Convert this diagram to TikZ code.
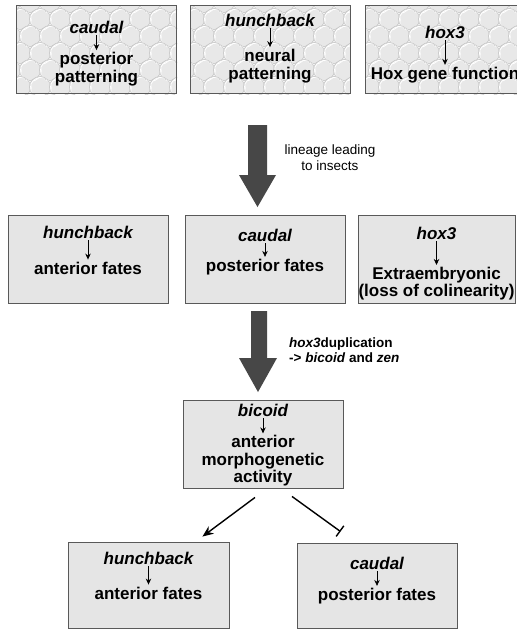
\documentclass[tikz,border=0pt]{standalone}
\usepackage{fontspec}
\setmainfont{Liberation Sans}
\usetikzlibrary{arrows.meta,calc}
\tikzset{
  box/.style={draw=black!65, line width=0.9pt, fill=black!10, inner sep=0pt, minimum width=160pt, minimum height=88pt},
  gene/.style={font=\fontsize{17}{18}\selectfont\bfseries\itshape, inner sep=0pt},
  fate/.style={font=\fontsize{17}{17.5}\selectfont\bfseries, align=center, inner sep=0pt},
  small/.style={-{Stealth[length=6pt,width=5.5pt]}, line width=0.8pt, shorten <=2pt, shorten >=2pt},
  bigarrow/.style={fill=black!72, draw=none},
  lbl/.style={font=\fontsize{13.5}{16}\selectfont, inner sep=0pt},
  lblb/.style={font=\fontsize{13.5}{15}\selectfont\bfseries, inner sep=0pt, align=left},
  conn/.style={line width=1.4pt},
  bubble/.style={draw=black!24, line width=0.5pt},
  bubhi/.style={draw=white, line width=0.8pt}
}
\newcommand{\bubblebox}[4]{%
  \begin{scope}
    \clip (#1,#2) rectangle (#3,#4);
    \fill[black!9] (#1,#2) rectangle (#3,#4);
    \foreach \r in {0,...,6}{
      \foreach \c in {0,...,9}{
        \pgfmathsetmacro{\xx}{#1+\c*20+mod(\r,2)*10-6}
        \pgfmathsetmacro{\yy}{#2+\r*17-3}
        \draw[bubhi] (\xx+0.8,\yy+0.8) circle (10.5);
        \draw[bubble] (\xx,\yy) circle (10.5);
      }
    }
  \end{scope}}
\begin{document}
\begin{tikzpicture}[x=1pt,y=-1pt]
\clip (0,0) rectangle (517,630);
\fill[white] (0,0) rectangle (517,630);

% top row
\bubblebox{16}{5}{177}{94}
\bubblebox{190}{5}{350}{94}
\bubblebox{365}{5}{525}{94}
\node[box, fill=none] (t1) at (96.5,49.5) {};
\node[box, fill=none] (t2) at (270,49.5) {};
\node[box, fill=none] (t3) at (445,49.5) {};
\node[gene] (t1g) at (96.5,27) {caudal};
\node[fate] (t1f) at (96.5,69) {posterior\\patterning};
\node[gene] (t2g) at (270,20) {hunchback};
\node[fate] (t2f) at (270,66) {neural\\patterning};
\node[gene] (t3g) at (445,32) {hox3};
\node[fate] (t3f) at (445,75) {Hox gene function};
\draw[small] (t1g) -- (t1f);
\draw[small] (t2g) -- (t2f);
\draw[small] (t3g) -- (t3f);

% big arrow 1
\fill[bigarrow] (248,125) -- (267,125) -- (267,175) -- (276,175) -- (257.5,207) -- (239,175) -- (248,175) -- cycle;
\node[lbl, align=center] (l1) at (330,158) {lineage leading\\to insects};

% middle row
\node[box] (m1) at (88,259) {};
\node[box] (m2) at (265,259) {};
\node[box, minimum width=157pt] (m3) at (436.5,259) {};
\node[gene] (m1g) at (88,232) {hunchback};
\node[fate] (m1f) at (88,268) {anterior fates};
\node[gene] (m2g) at (265,235) {caudal};
\node[fate] (m2f) at (265,267) {posterior fates};
\node[gene] (m3g) at (436.5,233) {hox3};
\node[fate, font=\fontsize{17}{15.5}\selectfont\bfseries] (m3f) at (436.5,283.5) {Extraembryonic\\(loss of colinearity)};
\draw[small] (m1g) -- (m1f);
\draw[small] (m2g) -- (m2f);
\draw[small] (m3g) -- (m3f);

% big arrow 2
\fill[bigarrow] (251,311) -- (267,311) -- (267,358) -- (277,358) -- (258,392) -- (239,358) -- (251,358) -- cycle;
\node[lblb, anchor=west] (l2) at (289,350.5) {\textit{hox3}duplication\\-> \textit{bicoid} and \textit{zen}};

% bicoid
\node[box] (b) at (263,444) {};
\node[gene] (bg) at (263,410) {bicoid};
\node[fate] (bf) at (263,461) {anterior\\morphogenetic\\activity};
\draw[small] (bg) -- (bf);

% bottom row
\node[box, minimum width=161pt, minimum height=86pt] (h) at (148.5,585) {};
\node[box, minimum height=85pt] (c) at (377,585.5) {};
\node[gene] (hg) at (148.5,558) {hunchback};
\node[fate] (hf) at (148.5,593) {anterior fates};
\node[gene] (cg) at (377,563) {caudal};
\node[fate] (cf) at (377,596) {posterior fates};
\draw[small] (hg) -- (hf);
\draw[small] (cg) -- (cf);

% connectors
\coordinate (bs1) at ($(b.south)+(-8,9)$);
\coordinate (bs2) at ($(b.south)+(29,8)$);
\coordinate (he) at ($(h.north east)+(-27,-5)$);
\coordinate (ce) at ($(c.north west)+(44,-11)$);
\draw[conn, -{Stealth[length=11pt,width=9pt]}] (bs1) -- (he);
\draw[conn, -{Bar[width=13pt,line width=1.4pt]}] (bs2) -- (ce);
\end{tikzpicture}
\end{document}
